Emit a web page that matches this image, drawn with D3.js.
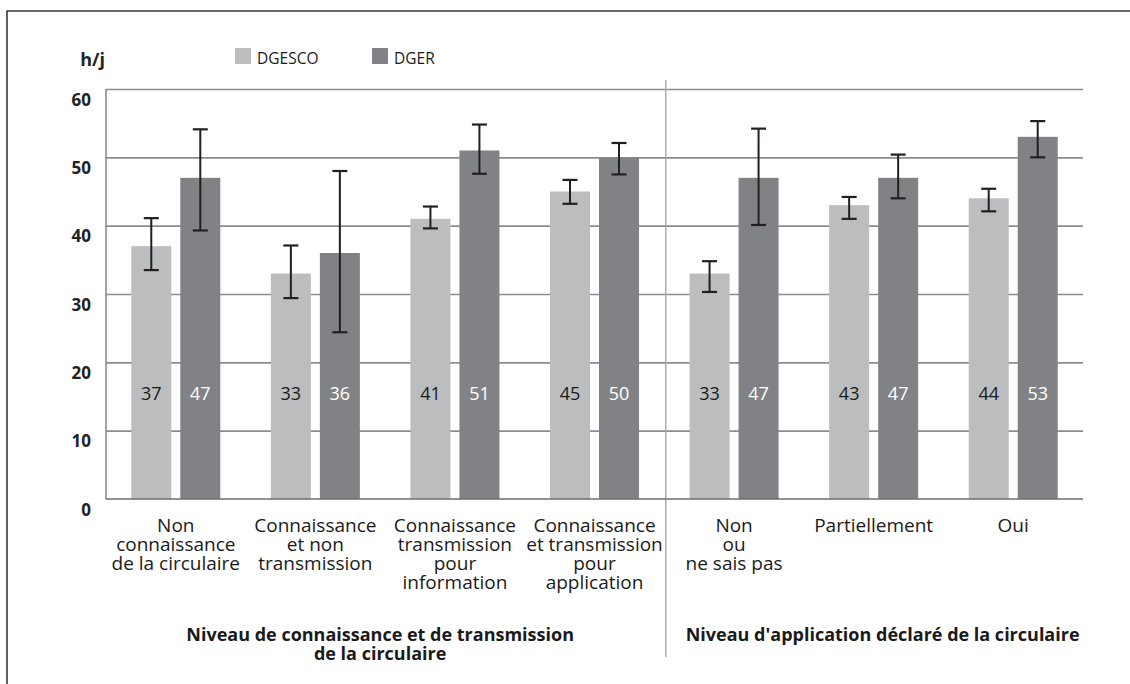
<!DOCTYPE html>
<html><head><meta charset="utf-8">
<script src="https://cdn.jsdelivr.net/npm/d3@7"></script>
<style>
html,body{margin:0;padding:0;background:#fff;}
svg{display:block;font-family:"Open Sans","Noto Sans",sans-serif;}
</style></head>
<body>
<svg id="chart" width="1130" height="684"></svg>
<script>
// ---- data ----
const categories = [
  ["Non","connaissance","de la circulaire"],
  ["Connaissance","et non","transmission"],
  ["Connaissance","transmission","pour","information"],
  ["Connaissance","et transmission","pour","application"],
  ["Non","ou","ne sais pas"],
  ["Partiellement"],
  ["Oui"]
];
const seriesNames = ["DGESCO","DGER"];
const dgesco     = [37, 33, 41, 45, 33, 43, 44];
const dger       = [47, 36, 51, 50, 47, 47, 53];
const dgescoLow  = [33.5, 29.4, 39.6, 43.2, 30.3, 41.0, 42.1];
const dgescoHigh = [41.1, 37.1, 42.8, 46.7, 34.8, 44.2, 45.4];
const dgerLow    = [39.3, 24.4, 47.6, 47.5, 40.1, 44.0, 50.0];
const dgerHigh   = [54.1, 48.0, 54.8, 52.1, 54.2, 50.4, 55.3];
const yTicks = [0, 10, 20, 30, 40, 50, 60];
const yTickLabels = ["0","10","20","30","40","50","60"];
const groupTitles = [
  {lines:["Niveau de connaissance et de transmission","de la circulaire"], from:0, to:3},
  {lines:["Niveau d'application déclaré de la circulaire"], from:4, to:6}
];
const yUnit = "h/j";

// ---- layout ----
const colors = {DGESCO:"#bcbdbf", DGER:"#818285"};
const svg = d3.select("#chart");
const pL = 106, pR = 1083, pT = 89, pB = 499;

const idx = d3.range(categories.length);
const x0 = d3.scaleBand().domain(idx).range([pL, pR]).paddingInner(0).paddingOuter(0);
const bw = x0.bandwidth();
const x1 = d3.scaleBand().domain(seriesNames)
  .range([bw/2 - 44.5, bw/2 + 44.5]).paddingInner(0.1837).paddingOuter(0);
const y = d3.scaleLinear().domain([0, 60]).range([pB, pT]);

// frame
svg.append("path").attr("d", `M7,684 L7,11 L1130,11`)
  .attr("fill","none").attr("stroke","#3a3a3a").attr("stroke-width",1.6);

// gridlines via axis
const gridAxis = d3.axisLeft(y).tickValues(yTicks.filter(v=>v>0)).tickSize(-(pR-pL)).tickFormat("");
const gg = svg.append("g").attr("transform",`translate(${pL},0)`).call(gridAxis);
gg.select(".domain").remove();
gg.selectAll(".tick line").attr("stroke","#8c8c8c").attr("stroke-width",1.6);

// section divider
const divX = x0(4) + 1.5;
svg.append("line").attr("x1",divX).attr("x2",divX).attr("y1",80).attr("y2",657)
  .attr("stroke","#a8a8a8").attr("stroke-width",1.4);

// y tick labels
const yAxis = d3.axisLeft(y).tickValues(yTicks).tickSize(0).tickPadding(0)
  .tickFormat((d,i)=>yTickLabels[i]);
const ya = svg.append("g").attr("transform",`translate(91,0)`).call(yAxis);
ya.select(".domain").remove();
ya.selectAll("text").attr("font-family","'Open Sans',sans-serif").attr("font-size",17)
  .attr("font-weight",700).attr("fill","#222").attr("dy","0.95em");

// unit label
svg.append("text").attr("x",105).attr("y",66).attr("text-anchor","end")
  .attr("font-size",18).attr("font-weight",700).attr("fill","#222").text(yUnit);

// bars
const data = idx.map(i => [
  {s:"DGESCO", v:dgesco[i], lo:dgescoLow[i], hi:dgescoHigh[i], i},
  {s:"DGER", v:dger[i], lo:dgerLow[i], hi:dgerHigh[i], i}
]);
const groups = svg.append("g").selectAll("g").data(data).join("g")
  .attr("transform", (d,i)=>`translate(${x0(i)},0)`);
groups.selectAll("rect").data(d=>d).join("rect")
  .attr("x", d=>x1(d.s)).attr("width", x1.bandwidth())
  .attr("y", d=>y(d.v)).attr("height", d=>y(0)-y(d.v))
  .attr("fill", d=>colors[d.s]);

// axes lines (left & baseline)
svg.append("line").attr("x1",pL).attr("x2",pL).attr("y1",pT).attr("y2",pB)
  .attr("stroke","#8c8c8c").attr("stroke-width",1.6);
svg.append("line").attr("x1",pL).attr("x2",pR).attr("y1",pB).attr("y2",pB)
  .attr("stroke","#6e6e6e").attr("stroke-width",1.6);

// error bars
const eb = groups.selectAll("g.eb").data(d=>d).join("g").attr("class","eb")
  .attr("transform", d=>`translate(${x1(d.s)+x1.bandwidth()/2},0)`);
const cap = 7.5;
eb.append("line").attr("x1",0).attr("x2",0).attr("y1",d=>y(d.hi)).attr("y2",d=>y(d.lo))
  .attr("stroke","#231f20").attr("stroke-width",2);
eb.append("line").attr("x1",-cap).attr("x2",cap).attr("y1",d=>y(d.hi)).attr("y2",d=>y(d.hi))
  .attr("stroke","#231f20").attr("stroke-width",2.2);
eb.append("line").attr("x1",-cap).attr("x2",cap).attr("y1",d=>y(d.lo)).attr("y2",d=>y(d.lo))
  .attr("stroke","#231f20").attr("stroke-width",2.2);

// value labels
groups.selectAll("text.val").data(d=>d).join("text").attr("class","val")
  .attr("x", d=>x1(d.s)+x1.bandwidth()/2).attr("y", 400)
  .attr("text-anchor","middle").attr("font-size",18)
  .attr("fill", d=> d.s==="DGER" ? "#ffffff" : "#1a1a1a")
  .text(d=>d.v);

// category labels
const cl = svg.append("g").selectAll("text").data(categories).join("text")
  .attr("x",(d,i)=>x0(i)+bw/2).attr("y",532).attr("text-anchor","middle")
  .attr("font-size",19).attr("fill","#1a1a1a");
cl.selectAll("tspan").data(d=>d).join("tspan")
  .attr("x", function(){ return d3.select(this.parentNode).attr("x"); })
  .attr("dy",(d,i)=> i===0 ? 0 : 19).text(d=>d);

// group titles
const gt = svg.append("g").selectAll("text").data(groupTitles).join("text")
  .attr("x",(d,k)=> (x0(d.from) + x0(d.to)+bw)/2 + (k===0 ? -5 : 9))
  .attr("y",641).attr("text-anchor","middle")
  .attr("font-size",18).attr("font-weight",700).attr("fill","#1a1a1a");
gt.selectAll("tspan").data(d=>d.lines).join("tspan")
  .attr("x", function(){ return d3.select(this.parentNode).attr("x"); })
  .attr("dy",(d,i)=> i===0 ? 0 : 19).text(d=>d);

// legend
const lg = svg.append("g").selectAll("g").data(seriesNames).join("g")
  .attr("transform",(d,i)=>`translate(${[235,372][i]},48)`);
lg.append("rect").attr("width",16).attr("height",16).attr("fill",d=>colors[d]);
lg.append("text").attr("x",22).attr("y",16).attr("font-size",15.5).attr("fill","#1a1a1a").text(d=>d);
</script>
</body></html>
